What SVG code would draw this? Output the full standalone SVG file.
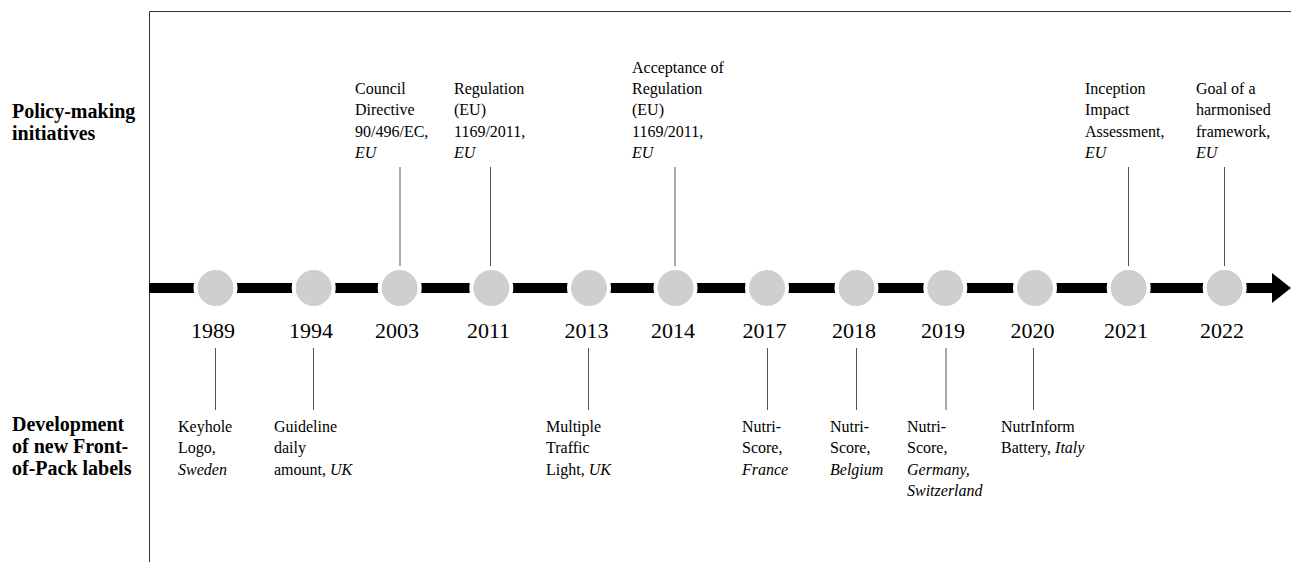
<svg xmlns="http://www.w3.org/2000/svg" width="1291" height="562" viewBox="0 0 1291 562">
<style>
  text { font-family: "Liberation Serif", "Times New Roman", serif; fill: #000; }
  .lbl { font-size: 16px; }
  .yr { font-size: 22px; text-anchor: middle; }
  .side { font-size: 20px; font-weight: bold; }
  .i { font-style: italic; }
  .conn { stroke: #555; stroke-width: 1; fill: none; }
  .dot { fill: #d0cece; stroke: #fff; stroke-width: 4; }
  .frame { stroke: #333; stroke-width: 1; fill: none; }
</style>
<rect width="1291" height="562" fill="#fff"/>
<g id="frame">
  <path class="frame" d="M149.5 562 V11.5 H1291"/>
</g>
<g id="side-labels">
  <text class="side" x="12" y="118">Policy-making</text>
  <text class="side" x="12" y="140">initiatives</text>
  <text class="side" x="12" y="431">Development</text>
  <text class="side" x="12" y="453">of new Front-</text>
  <text class="side" x="12" y="475">of-Pack labels</text>
</g>
<g id="timeline">
  <rect x="149" y="283" width="1125" height="10" fill="#000"/>
  <polygon points="1272,273 1291,288 1272,303" fill="#000"/>
</g>
<g id="connectors">
  <line class="conn" x1="400" y1="167" x2="400" y2="268"/>
  <line class="conn" x1="490.5" y1="167" x2="490.5" y2="268"/>
  <line class="conn" x1="675" y1="167" x2="675" y2="268"/>
  <line class="conn" x1="1128.5" y1="167" x2="1128.5" y2="268"/>
  <line class="conn" x1="1224.5" y1="167" x2="1224.5" y2="268"/>
  <line class="conn" x1="215.5" y1="348" x2="215.5" y2="410"/>
  <line class="conn" x1="313.5" y1="348" x2="313.5" y2="410"/>
  <line class="conn" x1="588.5" y1="348" x2="588.5" y2="410"/>
  <line class="conn" x1="767.5" y1="348" x2="767.5" y2="410"/>
  <line class="conn" x1="856.5" y1="348" x2="856.5" y2="410"/>
  <line class="conn" x1="946" y1="348" x2="946" y2="410"/>
  <line class="conn" x1="1033.5" y1="348" x2="1033.5" y2="410"/>
</g>
<g id="n1989"><circle class="dot" cx="215.5" cy="288" r="20"/><text class="yr" x="213" y="338">1989</text>
  <text class="lbl" x="178" y="432">Keyhole</text><text class="lbl" x="178" y="453.3">Logo,</text><text class="lbl i" x="178" y="474.6">Sweden</text></g>
<g id="n1994"><circle class="dot" cx="313.7" cy="288" r="20"/><text class="yr" x="311" y="338">1994</text>
  <text class="lbl" x="274" y="432">Guideline</text><text class="lbl" x="274" y="453.3">daily</text><text class="lbl" x="274" y="474.6">amount, <tspan class="i">UK</tspan></text></g>
<g id="n2003"><circle class="dot" cx="399.7" cy="288" r="20"/><text class="yr" x="397" y="338">2003</text>
  <text class="lbl" x="355" y="94.1">Council</text><text class="lbl" x="355" y="115.4">Directive</text><text class="lbl" x="355" y="136.7">90/496/EC,</text><text class="lbl i" x="355" y="158">EU</text></g>
<g id="n2011"><circle class="dot" cx="491.3" cy="288" r="20"/><text class="yr" x="488.5" y="338">2011</text>
  <text class="lbl" x="454" y="94.1">Regulation</text><text class="lbl" x="454" y="115.4">(EU)</text><text class="lbl" x="454" y="136.7">1169/2011,</text><text class="lbl i" x="454" y="158">EU</text></g>
<g id="n2013"><circle class="dot" cx="589" cy="288" r="20"/><text class="yr" x="586.5" y="338">2013</text>
  <text class="lbl" x="546" y="432">Multiple</text><text class="lbl" x="546" y="453.3">Traffic</text><text class="lbl" x="546" y="474.6">Light, <tspan class="i">UK</tspan></text></g>
<g id="n2014"><circle class="dot" cx="675.5" cy="288" r="20"/><text class="yr" x="673" y="338">2014</text>
  <text class="lbl" x="632" y="72.8">Acceptance of</text><text class="lbl" x="632" y="94.1">Regulation</text><text class="lbl" x="632" y="115.4">(EU)</text><text class="lbl" x="632" y="136.7">1169/2011,</text><text class="lbl i" x="632" y="158">EU</text></g>
<g id="n2017"><circle class="dot" cx="767" cy="288" r="20"/><text class="yr" x="764.5" y="338">2017</text>
  <text class="lbl" x="742" y="432">Nutri-</text><text class="lbl" x="742" y="453.3">Score,</text><text class="lbl i" x="742" y="474.6">France</text></g>
<g id="n2018"><circle class="dot" cx="856.5" cy="288" r="20"/><text class="yr" x="854" y="338">2018</text>
  <text class="lbl" x="830" y="432">Nutri-</text><text class="lbl" x="830" y="453.3">Score,</text><text class="lbl i" x="830" y="474.6">Belgium</text></g>
<g id="n2019"><circle class="dot" cx="945.3" cy="288" r="20"/><text class="yr" x="943" y="338">2019</text>
  <text class="lbl" x="907" y="432">Nutri-</text><text class="lbl" x="907" y="453.3">Score,</text><text class="lbl i" x="907" y="474.6">Germany,</text><text class="lbl i" x="907" y="495.9">Switzerland</text></g>
<g id="n2020"><circle class="dot" cx="1035" cy="288" r="20"/><text class="yr" x="1032.5" y="338">2020</text>
  <text class="lbl" x="1001" y="432">NutrInform</text><text class="lbl" x="1001" y="453.3">Battery, <tspan class="i">Italy</tspan></text></g>
<g id="n2021"><circle class="dot" cx="1128.7" cy="288" r="20"/><text class="yr" x="1126" y="338">2021</text>
  <text class="lbl" x="1085" y="94.1">Inception</text><text class="lbl" x="1085" y="115.4">Impact</text><text class="lbl" x="1085" y="136.7">Assessment,</text><text class="lbl i" x="1085" y="158">EU</text></g>
<g id="n2022"><circle class="dot" cx="1224.7" cy="288" r="20"/><text class="yr" x="1222" y="338">2022</text>
  <text class="lbl" x="1196" y="94.1">Goal of a</text><text class="lbl" x="1196" y="115.4">harmonised</text><text class="lbl" x="1196" y="136.7">framework,</text><text class="lbl i" x="1196" y="158">EU</text></g>
</svg>
